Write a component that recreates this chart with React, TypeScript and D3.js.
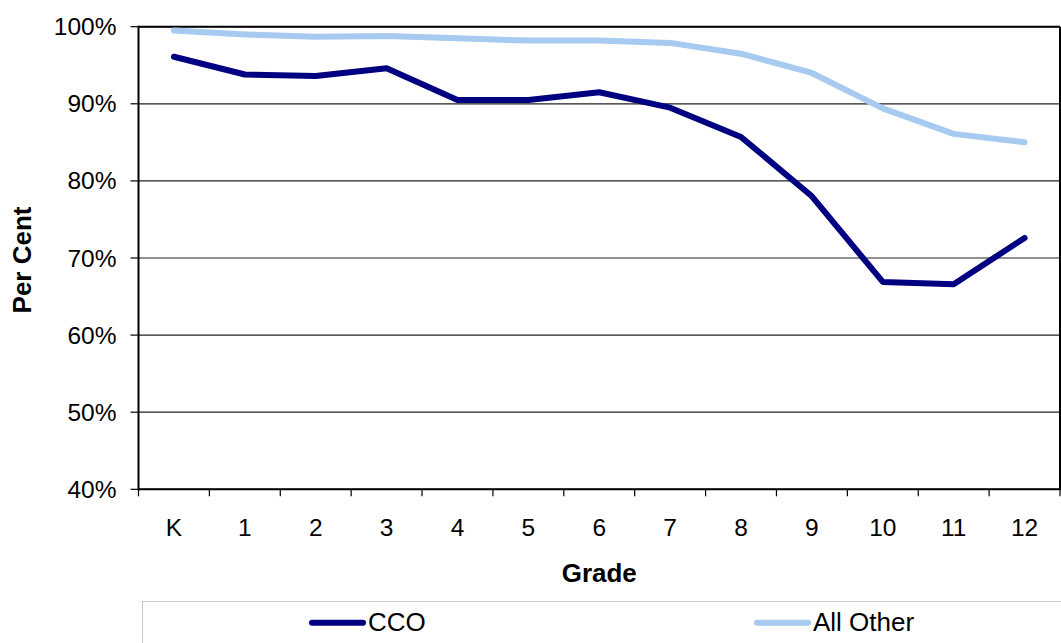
import React from "react";
import * as d3 from "d3";

const grades = ["K", "1", "2", "3", "4", "5", "6", "7", "8", "9", "10", "11", "12"];
const ccoValues = [96.1, 93.8, 93.6, 94.6, 90.5, 90.5, 91.5, 89.5, 85.7, 78.0, 66.9, 66.6, 72.6];
const allOtherValues = [99.5, 99.0, 98.7, 98.8, 98.5, 98.2, 98.2, 97.9, 96.5, 94.0, 89.4, 86.1, 85.0];
const yTicks = [40, 50, 60, 70, 80, 90, 100];
const seriesNames = ["CCO", "All Other"];
const seriesColors = ["#000080", "#a6caf0"];

const W = 1061;
const H = 643;
const left = 138.5;
const right = 1060;
const top = 26.7;
const bottom = 489.3;
const FONT = "Arial, 'Liberation Sans', sans-serif";

export default function App() {
  const x = d3.scaleBand<string>().domain(grades).range([left, right]).padding(0);
  const y = d3.scaleLinear().domain([40, 100]).range([bottom, top]);
  const cx = (g: string) => (x(g) as number) + x.bandwidth() / 2;
  const line = d3
    .line<number>()
    .x((_, i) => cx(grades[i]))
    .y((d) => y(d));
  const series = [ccoValues, allOtherValues];

  const boundaries = grades.map((g) => x(g) as number).concat([right]);

  return (
    <div style={{ position: "absolute", left: 0, top: 0 }}>
      <svg width={W} height={H} style={{ display: "block", background: "#fff" }} fontFamily={FONT}>
        <rect x={0} y={0} width={W} height={H} fill="#fff" />
        {yTicks.map((t) => (
          <line key={t} x1={left} x2={right} y1={y(t)} y2={y(t)} stroke="#222" strokeWidth={1.2} />
        ))}
        <line x1={left} x2={right} y1={top} y2={top} stroke="#000" strokeWidth={2} />
        <line x1={right} x2={right} y1={top} y2={bottom} stroke="#000" strokeWidth={2} />
        {series.map((vals, si) => (
          <path
            key={si}
            d={line(vals) || ""}
            fill="none"
            stroke={seriesColors[si]}
            strokeWidth={6}
            strokeLinejoin="round"
            strokeLinecap="round"
          />
        ))}
        <line x1={left} x2={left} y1={top - 1} y2={bottom + 1} stroke="#000" strokeWidth={2} />
        <line x1={left} x2={right + 1} y1={bottom} y2={bottom} stroke="#000" strokeWidth={2} />
        {yTicks.map((t) => (
          <g key={t}>
            <line x1={left - 8} x2={left} y1={y(t)} y2={y(t)} stroke="#000" strokeWidth={1.2} />
            <text x={left - 22} y={y(t)} dy="0.35em" textAnchor="end" fontSize={24.5} fill="#000">
              {t}%
            </text>
          </g>
        ))}
        {boundaries.map((b, i) => (
          <line key={i} x1={b} x2={b} y1={bottom} y2={bottom + 7} stroke="#000" strokeWidth={1.2} />
        ))}
        {grades.map((g) => (
          <text key={g} x={cx(g)} y={535.5} textAnchor="middle" fontSize={24.5} fill="#000">
            {g}
          </text>
        ))}
        <text x={(left + right) / 2} y={582} textAnchor="middle" fontSize={26} fontWeight="bold" fill="#000">
          Grade
        </text>
        <text
          transform={`translate(31, ${(top + bottom) / 2 + 2}) rotate(-90)`}
          textAnchor="middle"
          fontSize={26}
          fontWeight="bold"
          fill="#000"
        >
          Per Cent
        </text>
        <rect x={142.5} y={601.5} width={W} height={60} fill="#fff" stroke="#c8c8c8" strokeWidth={1} />
        {seriesNames.map((n, i) => {
          const lx = i === 0 ? 312 : 757;
          return (
            <g key={n}>
              <line x1={lx} x2={lx + 51} y1={622.7} y2={622.7} stroke={seriesColors[i]} strokeWidth={6} strokeLinecap="round" />
              <text x={lx + 56} y={630.5} fontSize={26} fill="#000">
                {n}
              </text>
            </g>
          );
        })}
      </svg>
    </div>
  );
}
